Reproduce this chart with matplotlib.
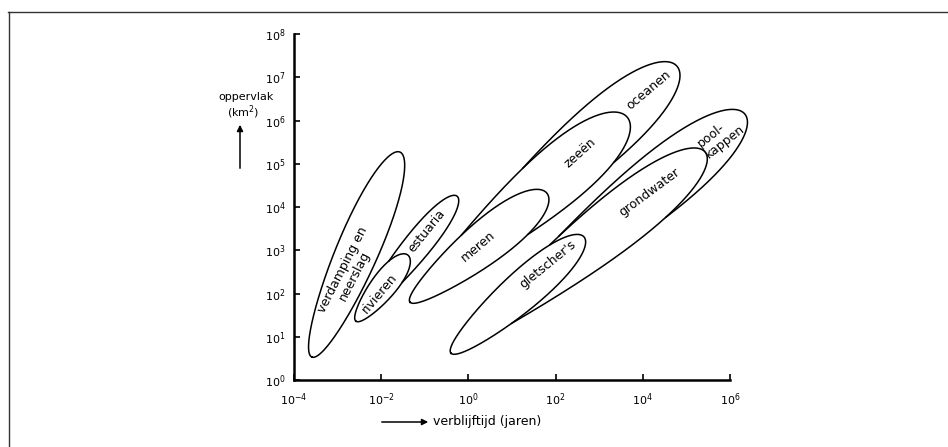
import numpy as np
import matplotlib
matplotlib.use('Agg')
import matplotlib.pyplot as plt
from matplotlib.path import Path
from matplotlib.lines import Line2D
from matplotlib.ticker import NullLocator

# water reservoirs: residence time (years) vs surface area (km2), as log10 ranges
names = ['verdamping', 'rivieren', 'estuaria', 'meren', 'zeeen',
         'oceanen', 'gletschers', 'grondwater', 'poolkappen']
labels = ['verdamping en\nneerslag', 'rivieren', 'estuaria', 'meren', 'zeeën',
          'oceanen', "gletscher's", 'grondwater', 'pool-\nkappen']
tip_t_exp = [-3.59, -2.58, -2.58, -1.34, -1.34, -1.34, -0.40, -0.40, -0.40]
tip_a_exp = [0.53, 1.36, 1.36, 1.80, 1.80, 1.80, 0.62, 0.62, 0.62]
head_t_exp = [-1.57, -1.39, -0.26, 1.80, 3.64, 4.78, 2.65, 5.43, 6.34]
head_a_exp = [5.27, 2.89, 4.25, 4.32, 6.08, 7.26, 3.31, 5.27, 6.15]
half_width = [0.48, 0.29, 0.30, 0.48, 0.60, 0.60, 0.44, 0.58, 0.60]
skew = [0.1, 0.2, 0.3, 0.3, 0.6, 0.7, 0.2, 0.5, 0.7]
# nested reservoirs: outline is hidden where it runs inside these
hidden_by = {'estuaria': ['rivieren'],
             'zeeen': ['meren'],
             'oceanen': ['meren', 'zeeen'],
             'grondwater': ['gletschers'],
             'poolkappen': ['gletschers', 'grondwater']}

# label placement (log10 units) and text angle
label_t_exp = [-2.74, -2.03, -0.95, 0.22, 2.56, 4.14, 1.83, 4.14, 5.79]
label_a_exp = [2.47, 2.01, 3.45, 3.08, 5.25, 6.71, 2.68, 4.35, 5.64]
label_rot = [63, 50, 51, 40, 42, 40, 39, 36.5, 38]
label_align = ['center'] * 8 + ['left']


def outline(i, n=900):
    t = np.linspace(0, 2 * np.pi, n)
    p0 = np.array([tip_t_exp[i], tip_a_exp[i]])
    p1 = np.array([head_t_exp[i], head_a_exp[i]])
    d = p1 - p0
    normal = np.array([-d[1], d[0]]) / np.hypot(*d)
    u = (1 - np.cos(t)) / 2
    h = half_width[i] * np.sin(t) * (1 - skew[i] * np.cos(t))
    return p0 + u[:, None] * d + h[:, None] * normal


W, H = 948, 447
fig = plt.figure(figsize=(W / 100, H / 100), dpi=100)
ax = fig.add_axes([294 / W, 67 / H, 436 / W, 346 / H])
ax.set_xscale('log')
ax.set_yscale('log')
ax.set_xlim(1e-4, 1e6)
ax.set_ylim(1e0, 1e8)

for i, name in enumerate(names):
    pts = outline(i)
    for other in hidden_by.get(name, []):
        inner = Path(outline(names.index(other)))
        pts[inner.contains_points(pts)] = np.nan
    ax.plot(10 ** pts[:, 0], 10 ** pts[:, 1], color='black', lw=1.1, clip_on=False)
    ax.text(10 ** label_t_exp[i], 10 ** label_a_exp[i], labels[i], rotation=label_rot[i],
            rotation_mode='anchor', ha='center', va='center', fontsize=9,
            linespacing=1.0, multialignment=label_align[i])

for side in ['top', 'right']:
    ax.spines[side].set_visible(False)
for side in ['left', 'bottom']:
    ax.spines[side].set_linewidth(1.8)

ax.set_xticks([1e-4, 1e-2, 1e0, 1e2, 1e4, 1e6])
ax.set_yticks(10.0 ** np.arange(0, 9))
ax.xaxis.set_minor_locator(NullLocator())
ax.yaxis.set_minor_locator(NullLocator())
ax.tick_params(direction='in', length=4, width=1.2, labelsize=8)
ax.tick_params(axis='x', pad=8)
ax.tick_params(axis='y', pad=6)

# axis captions with arrows
fig.text(246 / W, 1 - 97 / H, 'oppervlak', ha='center', va='center', fontsize=8)
fig.text(243 / W, 1 - 112 / H, '(km$^2$)', ha='center', va='center', fontsize=8)
fig.add_artist(plt.Annotation('', xy=(240 / W, 1 - 122 / H), xytext=(240 / W, 1 - 171 / H),
                              xycoords='figure fraction', textcoords='figure fraction',
                              arrowprops=dict(arrowstyle='-|>', color='black', lw=1.1,
                                              mutation_scale=9)))
fig.add_artist(plt.Annotation('', xy=(431 / W, 1 - 422 / H), xytext=(379 / W, 1 - 422 / H),
                              xycoords='figure fraction', textcoords='figure fraction',
                              arrowprops=dict(arrowstyle='-|>', color='black', lw=1.1,
                                              mutation_scale=9)))
fig.text(433 / W, 1 - 422 / H, 'verblijftijd (jaren)', ha='left', va='center', fontsize=9)

# scan frame
fig.add_artist(Line2D([8 / W, 1], [1 - 11.5 / H, 1 - 11.5 / H], color='#333333', lw=1.0))
fig.add_artist(Line2D([9 / W, 9 / W], [0, 1 - 11.5 / H], color='#333333', lw=1.0))

fig.savefig('out.png', dpi=100)
